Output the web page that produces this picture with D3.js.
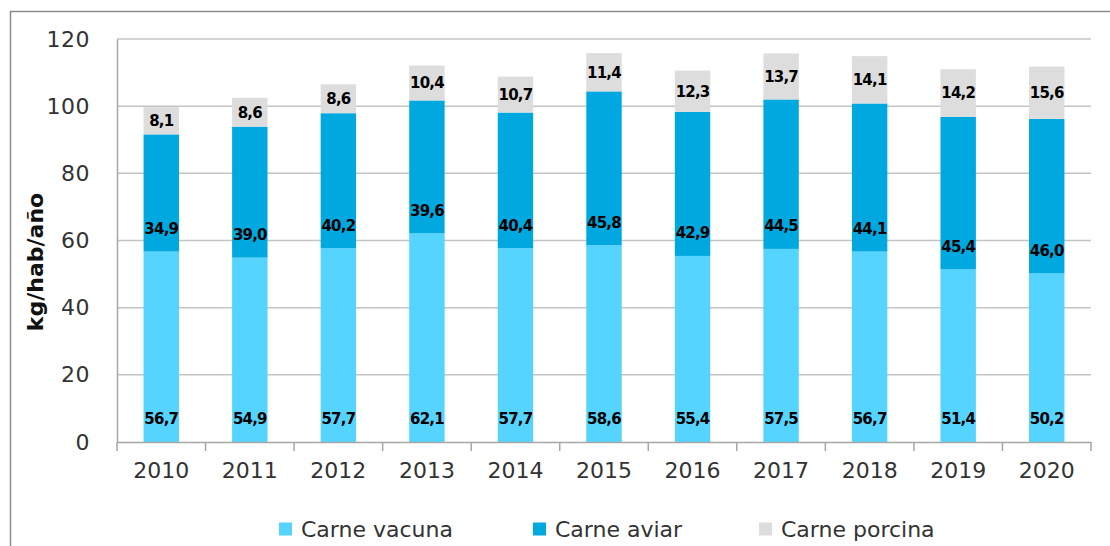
<!DOCTYPE html>
<html>
<head>
<meta charset="utf-8">
<script src="https://cdn.jsdelivr.net/npm/d3@7"></script>
<style>
  html, body { margin: 0; padding: 0; background: #fff; }
  svg { display: block; }
</style>
</head>
<body>
<div id="chart"></div>
<script>
const years = ['2010', '2011', '2012', '2013', '2014', '2015', '2016', '2017', '2018', '2019', '2020'];
const vacuna = [56.7, 54.9, 57.7, 62.1, 57.7, 58.6, 55.4, 57.5, 56.7, 51.4, 50.2];
const aviar = [34.9, 39.0, 40.2, 39.6, 40.4, 45.8, 42.9, 44.5, 44.1, 45.4, 46.0];
const porcina = [8.1, 8.6, 8.6, 10.4, 10.7, 11.4, 12.3, 13.7, 14.1, 14.2, 15.6];
const seriesNames = ['Carne vacuna', 'Carne aviar', 'Carne porcina'];
const yTicks = [0, 20, 40, 60, 80, 100, 120];

const colors = ['#55d4ff', '#00a8e0', '#dddddd'];
const W = 1110, H = 546;
const plot = { left: 117, right: 1091, top: 39, bottom: 442 };

const rows = years.map((y, i) => ({ year: y, vacuna: vacuna[i], aviar: aviar[i], porcina: porcina[i] }));
const keys = ['vacuna', 'aviar', 'porcina'];
const stacked = d3.stack().keys(keys)(rows);

const x = d3.scaleBand()
  .domain(years)
  .range([plot.left, plot.right])
  .paddingInner(0.6)
  .paddingOuter(0.3);

const y = d3.scaleLinear()
  .domain([0, 120])
  .range([plot.bottom, plot.top]);

const fmt = v => d3.format('.1f')(v).replace('.', ',');

const svg = d3.select('#chart').append('svg')
  .attr('width', W)
  .attr('height', H);

// outer frame (cut off at right and bottom)
svg.append('rect')
  .attr('x', 10.5).attr('y', 11.5)
  .attr('width', 1120).attr('height', 560)
  .attr('fill', 'none')
  .attr('stroke', '#8c8c8c')
  .attr('stroke-width', 1.5);

// gridlines
svg.append('g')
  .selectAll('line')
  .data(yTicks.filter(t => t > 0))
  .enter().append('line')
  .attr('x1', plot.left).attr('x2', plot.right)
  .attr('y1', d => y(d)).attr('y2', d => y(d))
  .attr('stroke', '#c4c4c4')
  .attr('stroke-width', 1.5);

// bars
svg.append('g')
  .selectAll('g')
  .data(stacked)
  .enter().append('g')
  .attr('fill', (d, i) => colors[i])
  .selectAll('rect')
  .data(d => d)
  .enter().append('rect')
  .attr('x', d => x(d.data.year))
  .attr('y', d => y(d[1]))
  .attr('width', x.bandwidth())
  .attr('height', d => y(d[0]) - y(d[1]));

// y axis
const yAxis = svg.append('g')
  .attr('transform', 'translate(' + plot.left + ',0)')
  .call(d3.axisLeft(y).tickValues(yTicks).tickSize(0).tickPadding(27).tickFormat(d3.format('d')));
yAxis.select('.domain').attr('stroke', '#a6a6a6').attr('stroke-width', 1.5);
yAxis.selectAll('text')
  .attr('font-family', 'DejaVu Sans')
  .attr('font-size', 22)
  .attr('fill', '#333')
  .attr('letter-spacing', '0.5px');

// x axis
const xAxis = svg.append('g')
  .attr('transform', 'translate(0,' + plot.bottom + ')')
  .call(d3.axisBottom(x).tickSize(0).tickPadding(20).tickSizeOuter(0));
xAxis.select('.domain').attr('stroke', '#a6a6a6').attr('stroke-width', 1.5);
xAxis.selectAll('text')
  .attr('font-family', 'DejaVu Sans')
  .attr('font-size', 22)
  .attr('fill', '#333');

// category separator ticks
const step = x.step();
xAxis.append('g')
  .selectAll('line')
  .data(d3.range(years.length + 1))
  .enter().append('line')
  .attr('x1', i => plot.left + i * step)
  .attr('x2', i => plot.left + i * step)
  .attr('y1', 0).attr('y2', 9)
  .attr('stroke', '#a6a6a6')
  .attr('stroke-width', 1.5);

// data labels
const labelPos = [
  d => y(d[0]) - 23,            // inside base
  d => y(d[0]) - 23,            // inside base
  d => (y(d[0]) + y(d[1])) / 2  // centered
];
stacked.forEach((s, si) => {
  svg.append('g')
    .selectAll('text')
    .data(s)
    .enter().append('text')
    .attr('x', d => x(d.data.year) + x.bandwidth() / 2)
    .attr('y', labelPos[si])
    .attr('dy', '0.36em')
    .attr('text-anchor', 'middle')
    .attr('font-family', 'DejaVu Sans')
    .attr('font-weight', 'bold')
    .attr('font-size', 15)
    .attr('letter-spacing', '-0.8px')
    .attr('fill', '#000')
    .text(d => fmt(d.data[s.key]));
});

// y axis title
svg.append('text')
  .attr('transform', 'translate(35,262) rotate(-90)')
  .attr('text-anchor', 'middle')
  .attr('dy', '0.35em')
  .attr('font-family', 'DejaVu Sans')
  .attr('font-weight', 'bold')
  .attr('font-size', 22)
  .attr('fill', '#111')
  .text('kg/hab/año');

// legend
const legendX = [279, 533, 759];
const legend = svg.append('g')
  .selectAll('g')
  .data(seriesNames)
  .enter().append('g')
  .attr('transform', (d, i) => 'translate(' + legendX[i] + ',529)');
legend.append('rect')
  .attr('x', 0).attr('y', -6.5)
  .attr('width', 13).attr('height', 13)
  .attr('fill', (d, i) => colors[i]);
legend.append('text')
  .attr('x', 22)
  .attr('dy', '0.35em')
  .attr('font-family', 'DejaVu Sans')
  .attr('font-size', 22)
  .attr('fill', '#333')
  .text(d => d);
</script>
</body>
</html>
